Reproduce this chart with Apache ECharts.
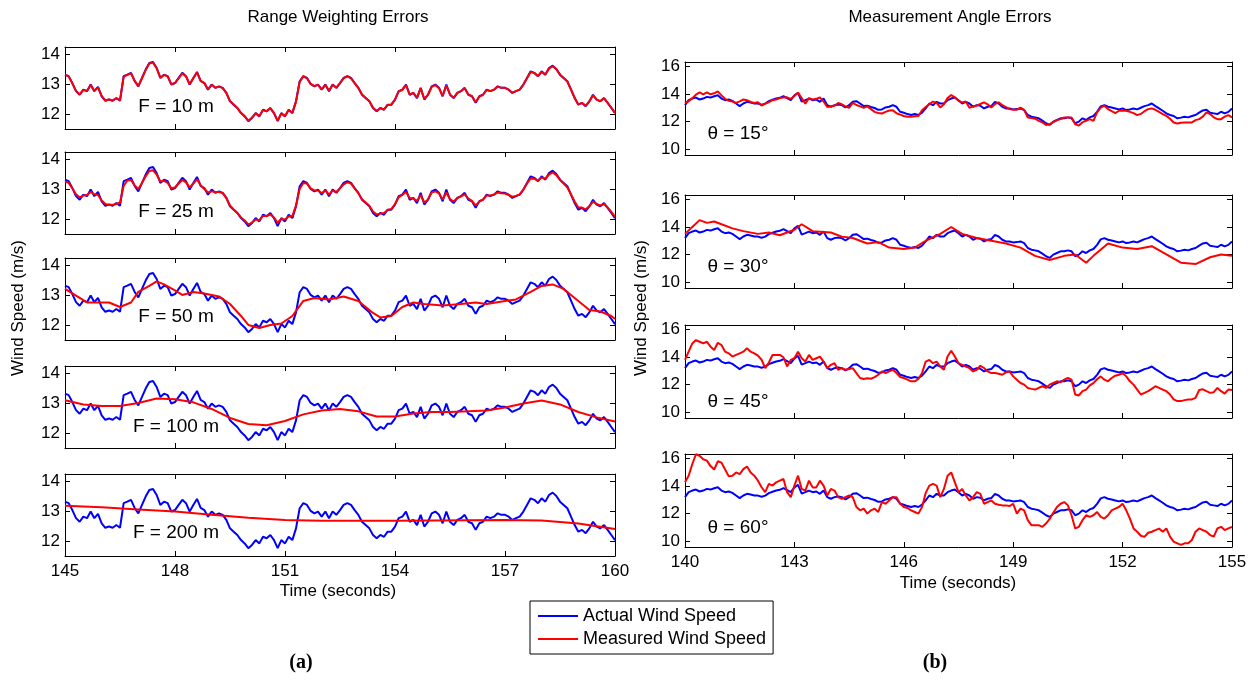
<!DOCTYPE html>
<html><head><meta charset="utf-8">
<script src="https://cdn.jsdelivr.net/npm/echarts@6/dist/echarts.min.js"></script>
<style>html,body{margin:0;padding:0;background:#fff}#c{width:1253px;height:683px}</style>
</head><body><div id="c"></div>
<script>
// ---------------- DATA ----------------
const leftStart = 145, rightStart = 140, sampleStep = 0.1;
const leftXTicks = [145,148,151,154,157,160];
const rightXTicks = [140,143,146,149,152,155];
const leftYTicks = [12,13,14];
const rightYTicks = [10,12,14,16];
const leftPanelLabels = ['F = 10 m','F = 25 m','F = 50 m','F = 100 m','F = 200 m'];
const rightPanelLabels = ['\u03b8 = 15\u00b0','\u03b8 = 30\u00b0','\u03b8 = 45\u00b0','\u03b8 = 60\u00b0'];
const seriesNames = ['Actual Wind Speed','Measured Wind Speed'];

// Left: actual wind speed, 145..160 s every 0.1 s
const actualLeft = [13.31,13.26,13.03,12.76,12.64,12.81,12.76,12.98,12.76,12.9,
12.59,12.44,12.48,12.44,12.53,12.44,13.26,13.31,13.37,13.1,
12.92,13.2,13.48,13.7,13.73,13.53,13.2,13.31,13.26,12.98,
13.03,13.2,13.37,13.26,12.98,13.2,13.4,13.1,13.03,12.81,
12.98,12.87,12.92,12.87,12.7,12.42,12.31,12.2,12.03,11.92,
11.76,11.87,12.03,11.92,12.14,12.09,12.2,12.03,11.76,12.03,
11.92,12.14,12.03,12.42,13.09,13.26,13.2,13.0,12.92,12.98,
12.81,12.98,12.76,12.98,12.87,13.03,13.2,13.26,13.2,13.03,
12.87,12.64,12.53,12.42,12.2,12.09,12.2,12.14,12.31,12.31,
12.48,12.76,12.81,12.98,12.64,12.7,12.53,12.87,12.48,12.64,
12.92,12.98,12.87,12.59,12.98,12.64,12.53,12.7,12.76,12.87,
12.64,12.59,12.37,12.59,12.64,12.81,12.76,12.81,12.92,12.87,
12.87,12.81,12.7,12.76,12.81,12.98,13.2,13.42,13.37,13.26,
13.42,13.31,13.53,13.61,13.5,13.31,13.2,13.09,12.81,12.53,
12.31,12.37,12.26,12.42,12.64,12.48,12.42,12.53,12.37,12.2,
12.03];
// F = 10 m measured (0.1 s)
const measuredF10 = [13.3,13.25,13.02,12.77,12.65,12.8,12.77,12.96,12.77,12.88,
12.6,12.45,12.48,12.45,12.52,12.45,13.24,13.3,13.35,13.1,
12.93,13.19,13.46,13.68,13.71,13.52,13.21,13.3,13.25,12.99,
13.03,13.19,13.35,13.25,12.99,13.19,13.38,13.1,13.03,12.82,
12.97,12.87,12.91,12.86,12.7,12.43,12.32,12.2,12.04,11.93,
11.77,11.88,12.02,11.93,12.13,12.09,12.19,12.03,11.78,12.02,
11.93,12.13,12.04,12.41,13.07,13.25,13.19,13.0,12.93,12.97,
12.82,12.97,12.77,12.97,12.87,13.03,13.19,13.25,13.19,13.03,
12.87,12.65,12.53,12.43,12.21,12.1,12.19,12.15,12.3,12.31,
12.48,12.75,12.8,12.96,12.65,12.7,12.54,12.85,12.5,12.64,
12.9,12.96,12.86,12.6,12.95,12.65,12.54,12.7,12.76,12.86,
12.65,12.59,12.39,12.58,12.64,12.8,12.76,12.81,12.91,12.87,
12.87,12.81,12.71,12.76,12.81,12.97,13.19,13.4,13.36,13.26,
13.4,13.31,13.51,13.59,13.49,13.31,13.2,13.08,12.82,12.54,
12.32,12.37,12.27,12.42,12.62,12.48,12.43,12.52,12.37,12.21,
12.04];
// F = 25 m measured (0.1 s)
const measuredF25 = [13.25,13.2,13.02,12.82,12.72,12.78,12.8,12.9,12.82,12.8,
12.62,12.5,12.47,12.47,12.5,12.55,13.1,13.28,13.3,13.12,
13.0,13.2,13.42,13.6,13.62,13.48,13.25,13.27,13.2,13.02,
13.05,13.18,13.3,13.22,13.05,13.18,13.32,13.12,13.0,12.88,
12.92,12.9,12.9,12.86,12.7,12.45,12.32,12.2,12.05,11.95,
11.82,11.88,11.98,11.96,12.1,12.1,12.15,12.05,11.88,12.0,
11.98,12.08,12.1,12.45,13.0,13.2,13.18,13.02,12.95,12.95,
12.86,12.95,12.82,12.94,12.9,13.02,13.15,13.22,13.18,13.02,
12.86,12.66,12.55,12.44,12.25,12.15,12.18,12.2,12.3,12.33,
12.5,12.72,12.8,12.9,12.7,12.68,12.6,12.8,12.55,12.65,
12.88,12.92,12.85,12.65,12.88,12.66,12.58,12.7,12.75,12.82,
12.68,12.6,12.45,12.58,12.65,12.78,12.78,12.82,12.88,12.86,
12.85,12.8,12.74,12.77,12.82,12.97,13.18,13.35,13.34,13.28,
13.38,13.34,13.48,13.55,13.46,13.3,13.18,13.05,12.82,12.58,
12.38,12.38,12.32,12.42,12.58,12.5,12.45,12.5,12.38,12.24,
12.08];
// F = 50 m measured (own time stamps)
const timeF50 = [145,145.6,146.2,146.5,146.8,147,147.3,147.5,147.7,148,148.2,148.5,148.8,149.2,149.5,149.8,150,150.3,150.6,150.9,151.2,151.5,151.8,152.2,152.6,153,153.4,153.6,153.9,154.2,154.5,154.8,155.3,155.8,156.2,156.5,157,157.3,157.7,158,158.3,158.6,159,159.3,159.6,159.9,160];
const measuredF50 = [13.2,12.75,12.75,12.6,12.75,13.1,13.3,13.45,13.35,13.15,13.0,13.1,13.05,12.95,12.7,12.3,12.0,11.9,12.0,12.05,12.3,12.8,12.9,12.85,12.95,12.8,12.4,12.25,12.3,12.6,12.75,12.7,12.65,12.7,12.75,12.7,12.8,12.85,13.1,13.3,13.35,13.2,12.8,12.5,12.45,12.3,12.2];
// F = 100 m measured
const timeF100 = [145,145.5,146,146.5,147,147.5,148,148.5,149,149.5,150,150.5,151,151.5,152,152.5,153,153.5,154,154.5,155,155.5,156,156.5,157,157.5,158,158.5,159,159.5,160];
const measuredF100 = [13.09,12.95,12.9,12.9,13.0,13.15,13.12,13.02,12.8,12.5,12.3,12.26,12.4,12.62,12.75,12.8,12.72,12.55,12.55,12.65,12.7,12.7,12.72,12.75,12.85,12.98,13.08,12.95,12.7,12.52,12.38];
// F = 200 m measured
const timeF200 = [145,146,147,148,149,150,151,152,153,154,155,156,157,158,159,160];
const measuredF200 = [13.17,13.12,13.05,12.98,12.87,12.77,12.7,12.67,12.67,12.67,12.68,12.69,12.7,12.68,12.58,12.4];

// Right: actual wind speed, 140..155 s every 0.1 s
const actualRight = [13.19,13.55,13.67,13.74,13.60,13.67,13.79,13.74,13.84,13.91,
13.67,13.55,13.60,13.50,13.31,13.12,13.31,13.43,13.38,13.31,
13.30,13.22,13.30,13.48,13.58,13.67,13.72,13.84,13.70,13.55,
13.90,14.08,13.45,13.55,13.67,13.55,13.60,13.43,13.67,13.19,
13.07,13.19,13.24,13.19,13.02,13.19,13.43,13.48,13.31,13.12,
13.15,13.05,12.98,12.85,12.88,13.02,13.07,13.19,13.07,12.71,
12.64,12.54,12.47,12.54,12.47,12.64,12.95,13.31,13.19,13.43,
13.31,13.31,13.55,13.67,13.74,13.55,13.31,13.43,13.31,13.07,
13.19,13.15,12.95,13.07,13.12,13.43,13.31,13.07,12.95,12.95,
12.88,12.90,12.95,12.83,12.47,12.35,12.30,12.23,12.06,11.87,
11.75,11.99,12.11,12.23,12.23,12.30,12.23,11.87,11.99,12.23,
12.11,12.30,12.40,12.70,13.10,13.19,13.07,13.02,12.95,12.88,
12.95,12.83,12.88,12.95,12.88,13.00,13.12,13.19,13.31,13.12,
12.95,12.78,12.59,12.47,12.40,12.23,12.28,12.35,12.30,12.40,
12.47,12.65,12.80,12.85,12.64,12.59,12.54,12.71,12.59,12.70,
12.95];
const measuredT15 = [13.35,13.47,13.7,13.95,14.12,13.98,14.12,13.98,14.05,14.19,
13.9,13.65,13.5,13.45,13.35,13.47,13.6,13.55,13.42,13.35,
13.4,13.16,13.3,13.4,13.55,13.6,13.7,13.75,13.76,13.65,
13.85,14.1,13.7,13.3,13.7,13.6,13.65,13.75,13.45,13.05,
13.1,13.15,13.35,13.25,13.1,12.99,13.35,13.2,13.1,12.99,
13.1,12.9,12.7,12.62,12.58,12.7,12.8,12.82,12.6,12.5,
12.4,12.34,12.34,12.38,12.4,12.82,13.05,13.25,13.45,13.35,
13.02,13.25,13.7,13.93,13.76,13.5,13.39,13.45,13.0,13.1,
13.15,13.27,13.39,13.25,13.02,13.27,13.39,13.2,13.05,12.9,
12.85,12.85,13.0,12.85,12.29,12.25,12.2,12.05,11.93,11.75,
11.8,11.95,12.1,12.17,12.29,12.29,12.29,11.8,11.7,11.95,
12.05,12.17,12.05,12.66,13.0,13.15,12.9,12.75,12.61,12.78,
12.78,12.78,12.7,12.61,12.46,12.55,12.75,12.9,12.95,12.85,
12.7,12.54,12.41,12.2,11.93,11.85,11.9,11.93,11.93,11.93,
12.1,12.17,12.35,12.66,12.54,12.3,12.17,12.17,12.35,12.46,
12.3];
const timeT30 = [140,140.2,140.4,140.6,140.8,141,141.3,141.6,142,142.3,142.6,143,143.2,143.5,144,144.3,144.6,145,145.3,145.6,146,146.3,146.6,147,147.3,147.6,148,148.4,148.8,149.2,149.6,150,150.4,150.7,151,151.2,151.6,152,152.4,152.8,153.2,153.6,154,154.4,154.7,155];
const measuredT30 = [13.5,14.0,14.5,14.3,14.4,14.2,13.9,13.7,13.5,13.6,13.4,13.8,14.2,13.7,13.6,13.3,13.2,12.8,12.9,12.5,12.4,12.5,13.0,13.5,14.0,13.5,13.2,13.0,12.8,12.5,11.9,11.6,11.9,12.0,11.4,11.9,12.8,12.5,12.4,12.6,12.0,11.4,11.3,11.8,12.0,11.9];
const measuredT45 = [13.79,14.39,14.99,15.23,15.11,14.99,15.11,14.75,14.51,15.04,
14.87,14.39,14.27,14.03,14.15,14.27,14.39,14.63,14.39,14.27,
14.1,13.8,13.19,13.6,14.15,14.15,14.15,13.98,13.31,13.79,
13.91,14.39,13.91,13.67,14.15,13.79,13.91,14.03,13.67,13.19,
13.43,13.55,13.07,13.19,13.07,13.12,13.19,12.83,12.47,12.40,
12.45,12.42,12.53,12.71,12.95,12.83,12.95,13.07,12.83,12.54,
12.47,12.35,12.23,12.23,12.40,12.83,13.67,13.79,13.55,13.67,
13.31,13.07,14.03,14.46,14.03,13.55,13.43,13.31,13.19,12.95,
13.07,13.36,13.2,12.95,12.83,12.83,12.78,12.71,12.88,12.95,
12.59,12.35,12.11,11.99,11.75,11.68,11.63,11.75,11.87,11.75,
11.99,12.11,12.23,12.16,12.35,12.47,12.35,11.27,11.20,11.51,
11.63,11.93,12.1,12.38,12.59,12.35,12.23,12.47,12.64,12.71,
12.83,12.59,12.23,11.99,11.63,11.27,11.39,11.51,11.68,11.87,
11.75,11.63,11.51,11.27,10.91,10.79,10.79,10.86,10.91,10.91,
11.03,11.6,11.65,11.51,11.39,11.44,11.75,11.51,11.34,11.63,
11.6];
const measuredT60 = [14.27,14.75,15.59,16.31,16.2,15.95,15.85,15.45,15.2,15.8,
15.7,15.2,14.7,14.75,14.99,14.87,15.23,15.42,14.99,14.75,
14.39,13.91,13.55,14.15,14.03,14.27,14.39,14.51,13.55,13.19,
14.03,14.75,13.79,13.67,14.39,13.9,13.9,14.39,14.03,13.31,
13.79,13.67,13.19,13.07,13.19,13.31,13.19,12.47,12.23,12.35,
11.99,12.23,12.35,12.11,12.83,12.71,12.95,13.19,13.19,12.71,
12.47,12.40,12.23,12.11,11.99,12.47,13.5,14.03,14.15,14.03,
13.19,13.79,14.75,14.99,14.27,13.55,13.79,13.31,12.95,13.19,
13.55,13.43,12.71,12.83,12.95,12.71,12.64,12.59,12.59,12.54,
12.71,11.99,12.35,12.23,11.51,11.15,11.15,11.15,11.03,11.27,
11.6,12.05,12.47,12.71,12.83,12.59,11.87,10.91,11.03,11.51,
11.87,11.75,11.87,12.11,11.75,11.63,11.87,12.23,12.35,12.47,
12.71,12.23,11.63,10.91,10.67,10.38,10.3,10.6,10.67,10.79,
10.9,10.67,10.91,10.31,9.95,9.83,9.71,9.83,9.83,10.07,
10.67,10.91,10.79,10.67,10.43,10.31,10.91,11.03,10.79,10.91,
11.03];

// ---------------- BUILD ----------------
const FONT = "'Liberation Sans', Arial, Helvetica, sans-serif";
const BLUE = '#0000ff', RED = '#ff0000';
function uniform(start, arr){ return arr.map((v,i)=>[Math.round((start+i*sampleStep)*100)/100, v]); }
function paired(times, arr){ return arr.map((v,i)=>[times[i], v]); }

const leftActual = uniform(leftStart, actualLeft);
const rightActual = uniform(rightStart, actualRight);
const leftMeasured = [uniform(leftStart, measuredF10), uniform(leftStart, measuredF25), paired(timeF50, measuredF50), paired(timeF100, measuredF100), paired(timeF200, measuredF200)];
const rightMeasured = [uniform(rightStart, measuredT15), paired(timeT30, measuredT30), uniform(rightStart, measuredT45), uniform(rightStart, measuredT60)];

const leftTops = [47,152,258,366,474];
const rightTops = [62,195,325,454];

const grids = [], xAxes = [], yAxes = [], series = [];
function addPanel(gi, left, top, width, height, xmin, xmax, xt, ymin, ymax, yt, showX){
  grids.push({left, top, width, height, containLabel:false});
  const base = {gridIndex: gi, type:'value', min:xmin, max:xmax,
    axisLine:{show:true, onZero:false, lineStyle:{color:'#000', width:1}},
    splitLine:{show:false}};
  xAxes.push(Object.assign({}, base, {position:'bottom',
    axisTick:{show:true, inside:true, length:5, customValues:xt, lineStyle:{color:'#000'}},
    axisLabel:{show:showX, customValues:xt, margin:7, color:'#000', fontSize:17, fontFamily:FONT}}));
  xAxes.push(Object.assign({}, base, {position:'top',
    axisTick:{show:true, inside:true, length:5, customValues:xt, lineStyle:{color:'#000'}},
    axisLabel:{show:false}}));
  const ybase = {gridIndex: gi, type:'value', min:ymin, max:ymax,
    axisLine:{show:true, onZero:false, lineStyle:{color:'#000', width:1}},
    splitLine:{show:false}};
  yAxes.push(Object.assign({}, ybase, {position:'left',
    axisTick:{show:true, inside:true, length:5, customValues:yt, lineStyle:{color:'#000'}},
    axisLabel:{show:true, customValues:yt, margin:5, color:'#000', fontSize:17, fontFamily:FONT}}));
  yAxes.push(Object.assign({}, ybase, {position:'right',
    axisTick:{show:true, inside:true, length:5, customValues:yt, lineStyle:{color:'#000'}},
    axisLabel:{show:false}}));
}
function addSeries(gi, data, name, color){
  series.push({type:'line', name, xAxisIndex:2*gi, yAxisIndex:2*gi, data,
    showSymbol:false, symbol:'none', clip:true, animation:false,
    lineStyle:{color, width:2}, itemStyle:{color}});
}

let gi = 0;
leftTops.forEach((t,i)=>{
  addPanel(gi, 65, t, 550, 82, 145, 160, leftXTicks, 11.5, 14.23, leftYTicks, i===leftTops.length-1);
  addSeries(gi, leftActual, seriesNames[0], BLUE);
  addSeries(gi, leftMeasured[i], seriesNames[1], RED);
  gi++;
});
rightTops.forEach((t,i)=>{
  addPanel(gi, 685, t, 547, 93, 140, 155, rightXTicks, 9.56, 16.33, rightYTicks, i===rightTops.length-1);
  addSeries(gi, rightActual, seriesNames[0], BLUE);
  addSeries(gi, rightMeasured[i], seriesNames[1], RED);
  gi++;
});

const graphics = [];
function txt(x, y, s, size, opts){
  graphics.push(Object.assign({type:'text', x, y, style:Object.assign({text:s, fill:'#000', font: size+'px '+FONT, align:'center', verticalAlign:'middle'}, (opts&&opts.style)||{})}, (opts&&opts.el)||{}));
}
const leftLabelY = [107,212,317,427,533];
leftPanelLabels.forEach((s,i)=>txt(176, leftLabelY[i], s, 19));
const rightLabelY = [134,267,402,528];
rightPanelLabels.forEach((s,i)=>txt(738, rightLabelY[i], s, 19));
txt(338, 17, 'Range Weighting Errors', 17);
txt(950, 17, 'Measurement Angle Errors', 17);
txt(338, 591, 'Time (seconds)', 17);
txt(958, 583, 'Time (seconds)', 17);
txt(18, 308, 'Wind Speed (m/s)', 17, {el:{rotation:Math.PI/2}});
txt(641, 308, 'Wind Speed (m/s)', 17, {el:{rotation:Math.PI/2}});
graphics.push({type:'text', x:301, y:663, style:{text:'(a)', fill:'#000', font:'bold 20px "Liberation Serif", "Times New Roman", serif', align:'center', verticalAlign:'middle'}});
graphics.push({type:'text', x:935, y:663, style:{text:'(b)', fill:'#000', font:'bold 20px "Liberation Serif", "Times New Roman", serif', align:'center', verticalAlign:'middle'}});

const chart = echarts.init(document.getElementById('c'), null, {renderer:'canvas'});
chart.setOption({
  animation:false,
  backgroundColor:'#fff',
  grid:grids, xAxis:xAxes, yAxis:yAxes, series,
  legend:{data:seriesNames, orient:'vertical', left:530, top:601, icon:'rect', itemWidth:40, itemHeight:2,
    itemGap:3, padding:[5,7,5,8], borderColor:'#000', borderWidth:1, backgroundColor:'#fff', selectedMode:false,
    textStyle:{fontSize:18, fontFamily:FONT, color:'#000', lineHeight:20}},
  graphic:graphics
});
</script></body></html>
